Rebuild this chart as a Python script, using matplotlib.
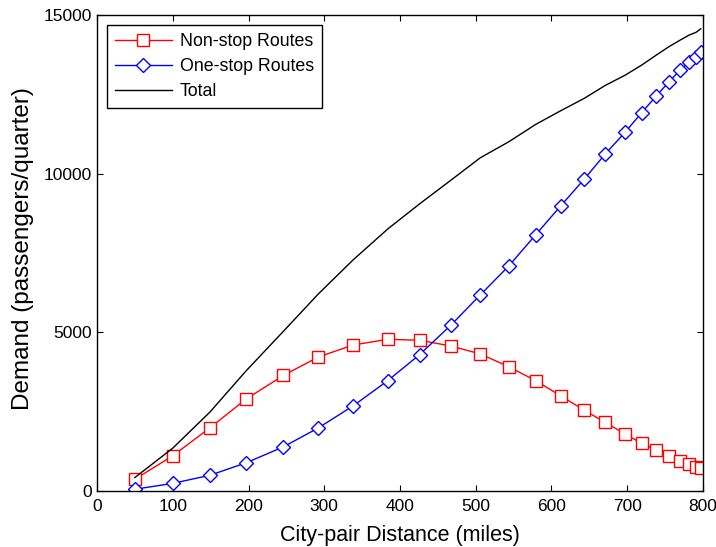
import matplotlib.pyplot as plt
import numpy as np

plt.rcParams['font.family'] = ['Liberation Sans', 'DejaVu Sans']

# distances (miles) at which the model was evaluated
distance = [50, 100, 149, 197, 246, 292, 338, 384, 426, 467, 506, 544, 579,
            612, 643, 671, 697, 719, 738, 755, 770, 782, 791, 797]

# demand (passengers/quarter)
nonstop = [370, 1110, 1990, 2900, 3640, 4220, 4600, 4780, 4750, 4570, 4320,
           3910, 3480, 3000, 2550, 2160, 1800, 1500, 1290, 1110, 940, 840, 765, 735]
onestop = [55, 240, 495, 890, 1390, 1985, 2680, 3480, 4300, 5220, 6180, 7100,
           8070, 8980, 9820, 10620, 11300, 11920, 12440, 12890, 13270, 13530, 13690, 13830]
total = np.array(nonstop) + np.array(onestop)

fig = plt.figure(figsize=(7.16, 5.47), dpi=100)
ax = fig.add_axes([0.1355, 0.1024, 0.8463, 0.8702])

ax.plot(distance, nonstop, '-s', color='red', lw=1, ms=8.5,
        mfc='white', mec='red', label='Non-stop Routes')
ax.plot(distance, onestop, '-D', color='blue', lw=1, ms=7,
        mfc='white', mec='blue', label='One-stop Routes')
ax.plot(distance, total, '-', color='black', lw=1, label='Total')

ax.set_xlim(0, 800)
ax.set_ylim(0, 15000)
ax.set_xticks(range(0, 801, 100))
ax.set_yticks([0, 5000, 10000, 15000])
ax.tick_params(direction='in', top=True, right=True, labelsize=12.5, length=4)
ax.tick_params(axis='x', pad=6)
for s in ax.spines.values():
    s.set_linewidth(1)

ax.set_xlabel('City-pair Distance (miles)', fontsize=15.5, labelpad=8)
ax.set_ylabel('Demand (passengers/quarter)', fontsize=17.5)
ax.yaxis.set_label_coords(-0.104, 0.51)

leg = ax.legend(loc='upper left', fontsize=12.8, fancybox=False, edgecolor='black',
                framealpha=1, handlelength=3.2, handletextpad=0.45,
                borderaxespad=0.55, labelspacing=0.45, borderpad=0.45)
leg.get_frame().set_linewidth(1)

fig.savefig('out.png', dpi=100)
